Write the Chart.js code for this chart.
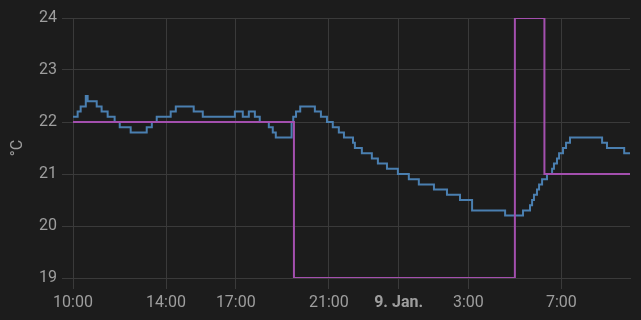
<!DOCTYPE html>
<html>
<head>
<meta charset="utf-8">
<script src="https://cdn.jsdelivr.net/npm/chart.js@4"></script>
<style>
  html, body { margin: 0; padding: 0; background: #1c1c1c; }
  #wrap { width: 641px; height: 320px; }
</style>
</head>
<body>
<div id="wrap"><canvas id="chart"></canvas></div>
<script>
// час у годинах від початку доби (24 = 9. Jan. 0:00)
const tempTimes = [10.0, 10.20, 10.33, 10.55, 10.63, 11.02, 11.23, 11.49, 11.79, 12.01, 12.48, 13.17,
  13.39, 13.60, 14.20, 14.42, 15.19, 15.58, 16.96, 17.30, 17.56, 17.82, 18.03, 18.42, 18.59, 18.72,
  19.40, 19.47, 19.59, 19.77, 20.40, 20.66, 20.92, 21.17, 21.43, 21.65, 22.04, 22.12, 22.42, 22.85,
  23.11, 23.50, 23.97, 24.44, 24.87, 25.52, 26.08, 26.64, 27.16, 28.58, 29.35, 29.65, 29.74, 29.82,
  29.95, 30.04, 30.17, 30.38, 30.60, 30.68, 30.81, 30.90, 31.07, 31.20, 31.37, 32.75, 32.96, 33.70, 33.95];
const tempValues = [22.1, 22.2, 22.3, 22.5, 22.4, 22.3, 22.2, 22.1, 22.0, 21.9, 21.8, 21.9,
  22.0, 22.1, 22.2, 22.3, 22.2, 22.1, 22.2, 22.1, 22.2, 22.1, 22.0, 21.9, 21.8, 21.7,
  22.0, 22.1, 22.2, 22.3, 22.2, 22.1, 22.0, 21.9, 21.8, 21.7, 21.6, 21.5, 21.4, 21.3,
  21.2, 21.1, 21.0, 20.9, 20.8, 20.7, 20.6, 20.5, 20.3, 20.2, 20.3, 20.4, 20.5, 20.6,
  20.7, 20.8, 20.9, 21.0, 21.1, 21.2, 21.3, 21.4, 21.5, 21.6, 21.7, 21.6, 21.5, 21.4, 21.4];

const setTimes = [10.0, 19.5, 29.0, 30.27, 33.95];
const setValues = [22, 19, 24, 21, 21];

const xTicks = [10, 14, 17, 21, 24, 27, 31];
const xLabels = ['10:00', '14:00', '17:00', '21:00', '9. Jan.', '3:00', '7:00'];
const yTicks = [19, 20, 21, 22, 23, 24];

const gridColor = '#3a3a3a';
const textColor = '#9e9e9e';

function toPoints(xs, ys) {
  return xs.map((x, i) => ({ x: x, y: ys[i] }));
}

new Chart(document.getElementById('chart'), {
  type: 'line',
  data: {
    datasets: [
      {
        label: 'Задана',
        data: toPoints(setTimes, setValues),
        borderColor: '#a34fae',
        borderWidth: 2,
        stepped: true,
        pointRadius: 0,
        fill: false
      },
      {
        label: 'Температура',
        data: toPoints(tempTimes, tempValues),
        borderColor: '#4a7fb0',
        borderWidth: 2,
        stepped: true,
        pointRadius: 0,
        fill: false
      }
    ]
  },
  options: {
    responsive: true,
    maintainAspectRatio: false,
    animation: false,
    layout: {
      padding: { top: 18, right: 11, left: 0, bottom: 0 }
    },
    plugins: {
      legend: { display: false },
      tooltip: { enabled: false }
    },
    scales: {
      x: {
        type: 'linear',
        min: 10,
        max: 33.95,
        afterBuildTicks: scale => {
          scale.ticks = xTicks.map(v => ({ value: v }));
        },
        afterFit: scale => { scale.height = 42; },
        grid: { color: gridColor, tickLength: 11, tickColor: gridColor },
        border: { color: gridColor },
        ticks: {
          autoSkip: false,
          maxRotation: 0,
          padding: 4,
          color: textColor,
          font: ctx => ({
            family: 'Roboto',
            size: 16,
            weight: ctx.tick && ctx.tick.value === 24 ? 'bold' : 'normal'
          }),
          callback: value => xLabels[xTicks.indexOf(value)]
        }
      },
      y: {
        min: 19,
        max: 24,
        afterBuildTicks: scale => {
          scale.ticks = yTicks.map(v => ({ value: v }));
        },
        afterFit: scale => { scale.width = 73; },
        grid: { color: gridColor, tickLength: 11, tickColor: gridColor },
        border: { color: gridColor },
        ticks: {
          padding: 5,
          color: textColor,
          font: { family: 'Roboto', size: 16 }
        },
        title: {
          display: true,
          text: '°C',
          color: textColor,
          font: { family: 'Roboto', size: 16 },
          padding: { top: 8, bottom: 0 }
        }
      }
    }
  }
});
</script>
</body>
</html>
